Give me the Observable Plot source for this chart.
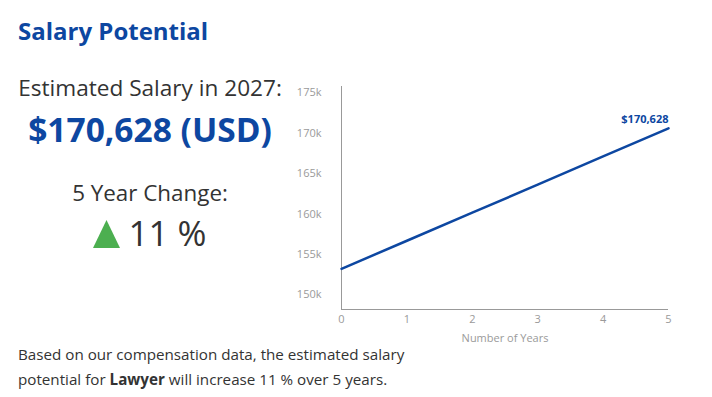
<!DOCTYPE html>
<html>
<head>
<meta charset="utf-8">
<script src="https://cdn.jsdelivr.net/npm/d3@7"></script>
<script src="https://cdn.jsdelivr.net/npm/@observablehq/plot@0.6"></script>
<style>
  html, body { margin: 0; padding: 0; background: #fff; }
  body { width: 712px; height: 397px; position: relative; overflow: hidden; font-family: "Open Sans", "Noto Sans", sans-serif; color: #333; }
  #title { position: absolute; left: 18px; top: 14px; font-size: 24px; font-weight: 700; color: #0d47a1; }
  .c { position: absolute; left: 0; width: 300px; text-align: center; white-space: nowrap; }
  #est { top: 71px; font-size: 22.6px; line-height: 34px; color: #333; }
  #val { top: 106px; font-size: 33.5px; font-weight: 700; color: #0d47a1; line-height: 46px; }
  #chgLbl { top: 176px; font-size: 22.4px; line-height: 34px; color: #333; }
  #chg { top: 211px; font-size: 35px; line-height: 44px; color: #333; }
  #chg svg { vertical-align: -2px; margin-right: 8px; }
  #chart { position: absolute; left: 280px; top: 80px; }
  #foot { position: absolute; left: 18px; top: 342px; font-size: 15.2px; line-height: 25px; color: #333; }
</style>
</head>
<body>
<div id="title">Salary Potential</div>
<div id="est" class="c">Estimated Salary in 2027:</div>
<div id="val" class="c">$170,628 (USD)</div>
<div id="chgLbl" class="c">5 Year Change:</div>
<div id="chg" class="c"><svg width="27" height="28" viewBox="0 0 27 28"><polygon points="13.5,0 27,28 0,28" fill="#4caf50"/></svg>11 %</div>
<div id="chart"></div>
<div id="foot">Based on our compensation data, the estimated salary<br>potential for <b>Lawyer</b> will increase 11 % over 5 years.</div>
<script>
const years = [0, 1, 2, 3, 4, 5];
const salaries = [153230, 156710, 160180, 163650, 167140, 170628];
const yTicks = [150000, 155000, 160000, 165000, 170000, 175000];
const endLabel = "$170,628";

const data = years.map((y, i) => ({year: y, salary: salaries[i]}));
const last = data[data.length - 1];
const yMin = 148200, yMax = 175800;

const chart = Plot.plot({
  width: 420,
  height: 270,
  marginLeft: 61,
  marginRight: 32,
  marginTop: 6,
  marginBottom: 41,
  style: {fontFamily: "Open Sans, Noto Sans, sans-serif", fontSize: "11px", color: "#9a9a9a", background: "transparent"},
  x: {domain: [0, 5], ticks: years, tickSize: 0, tickPadding: 6, tickFormat: d => String(d), label: "Number of Years", labelAnchor: "center", labelArrow: "none", labelOffset: 32},
  y: {domain: [yMin, yMax], ticks: yTicks, tickSize: 0, tickPadding: 20, tickFormat: d => (d / 1000) + "k", label: null},
  marks: [
    Plot.ruleX([0], {stroke: "#999", strokeWidth: 1}),
    Plot.ruleY([yMin], {stroke: "#999", strokeWidth: 1}),
    Plot.line(data, {x: "year", y: "salary", stroke: "#0d47a1", strokeWidth: 2.5}),
    Plot.text([last], {x: "year", y: "salary", text: () => endLabel, textAnchor: "end", dy: -9, fill: "#0d47a1", fontWeight: "bold", fontSize: 11})
  ]
});
document.getElementById("chart").appendChild(chart);
</script>
</body>
</html>
